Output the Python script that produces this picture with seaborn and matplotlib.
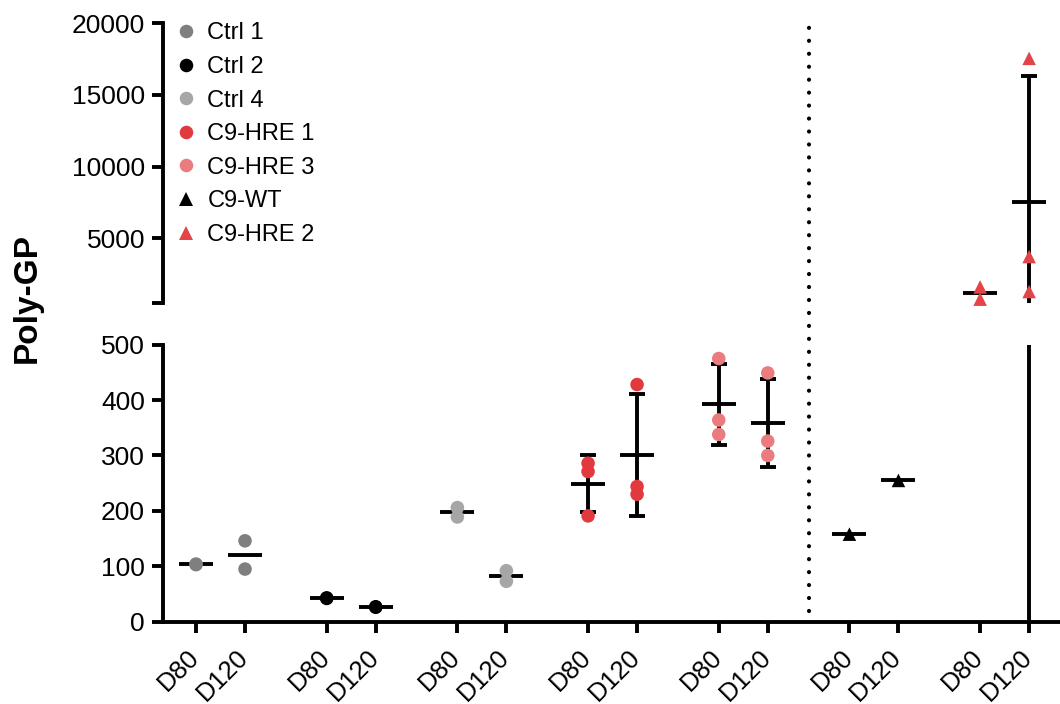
import numpy as np
import pandas as pd
import matplotlib
matplotlib.use("Agg")
import matplotlib.pyplot as plt
import seaborn as sns
from matplotlib.transforms import ScaledTranslation

# ---------------- data ----------------
lines = ["Ctrl 1", "Ctrl 2", "Ctrl 4", "C9-HRE 1", "C9-HRE 3", "C9-WT", "C9-HRE 2"]
days = ["D80", "D120"]
colors = ["#7f7f7f", "#000000", "#a6a6a6", "#e2393e", "#ea7c80", "#000000", "#e24448"]
markers = ["o", "o", "o", "o", "o", "^", "^"]

ctrl1_d80 = [104, 103]
ctrl1_d120 = [146, 95]
ctrl2_d80 = [43, 42]
ctrl2_d120 = [27, 26]
ctrl4_d80 = [206, 189]
ctrl4_d120 = [92, 73]
hre1_d80 = [286, 271, 191]
hre1_d120 = [428, 244, 230]
hre3_d80 = [475, 364, 338]
hre3_d120 = [449, 326, 300]
wt_d80 = [158]
wt_d120 = [255]
hre2_d80 = [1600, 750]
hre2_d120 = [17550, 3720, 1280]

axis_break = 500
upper_ticks = [500, 5000, 10000, 15000, 20000]
upper_labels = ["", "5000", "10000", "15000", "20000"]
lower_ticks = [0, 100, 200, 300, 400, 500]

values = {
    ("Ctrl 1", "D80"): ctrl1_d80, ("Ctrl 1", "D120"): ctrl1_d120,
    ("Ctrl 2", "D80"): ctrl2_d80, ("Ctrl 2", "D120"): ctrl2_d120,
    ("Ctrl 4", "D80"): ctrl4_d80, ("Ctrl 4", "D120"): ctrl4_d120,
    ("C9-HRE 1", "D80"): hre1_d80, ("C9-HRE 1", "D120"): hre1_d120,
    ("C9-HRE 3", "D80"): hre3_d80, ("C9-HRE 3", "D120"): hre3_d120,
    ("C9-WT", "D80"): wt_d80, ("C9-WT", "D120"): wt_d120,
    ("C9-HRE 2", "D80"): hre2_d80, ("C9-HRE 2", "D120"): hre2_d120,
}

group_step = 8 / 3
rows = []
for gi, ln in enumerate(lines):
    for di, d in enumerate(days):
        for v in values[(ln, d)]:
            rows.append(dict(line=ln, day=d, pos=gi * group_step + di, val=v))
df = pd.DataFrame(rows)
stats = (df.groupby(["line", "day"], sort=False)
           .agg(pos=("pos", "first"), mean=("val", "mean"),
                sd=("val", "std"), n=("val", "size"))
           .reset_index())

# ---------------- style ----------------
sns.set_style("ticks")
plt.rcParams["font.family"] = ["Liberation Sans", "DejaVu Sans"]
plt.rcParams.update({"text.color": "black", "axes.labelcolor": "black",
                     "xtick.color": "black", "ytick.color": "black",
                     "axes.edgecolor": "black"})
LW = 2.8
FS = 19
FS_X = 18.5
FS_LEG = 17

fig = plt.figure(figsize=(10.6, 7.04), dpi=100)
ax_u = fig.add_axes([0.1538, 0.570, 0.8462, 0.397])
ax_l = fig.add_axes([0.1538, 0.1169, 0.8462, 0.3935])

pal = dict(zip(lines, colors))
mk = dict(zip(lines, markers))
xlim = (-0.673, 17.63)

panels = [
    (ax_u, df[df["val"] > axis_break], stats[stats["mean"] > axis_break],
     stats[(stats["n"] >= 3) & (stats["mean"] + stats["sd"] > axis_break)], "full"),
    (ax_l, df[df["val"] <= axis_break], stats[stats["mean"] <= axis_break],
     stats[(stats["n"] >= 3) & (stats["mean"] - stats["sd"] < axis_break)], False),
]

for ax, dsub, msub, esub, leg in panels:
    ax.errorbar(esub["pos"], esub["mean"], yerr=esub["sd"], fmt="none", ecolor="black",
                elinewidth=LW, capsize=5.8, capthick=LW, zorder=2)
    ax.plot(msub["pos"], msub["mean"], ls="none", marker="_", ms=24, mew=LW,
            color="black", zorder=2)
    sns.scatterplot(data=dsub, x="pos", y="val", hue="line", style="line",
                    hue_order=lines, style_order=lines, palette=pal, markers=mk,
                    s=95, linewidth=0, ax=ax, legend=leg, zorder=3, clip_on=False)
    ax.set_xlim(*xlim)
    ax.set_xlabel("")
    ax.set_ylabel("")
    for s in ax.spines.values():
        s.set_linewidth(LW)
        s.set_color("black")
    ax.tick_params(axis="both", which="major", direction="out", length=8,
                   width=LW, labelsize=FS, pad=5, color="black", labelcolor="black")

# upper panel
ax_u.set_ylim(axis_break, 20000)
ax_u.set_yticks(upper_ticks)
ax_u.set_yticklabels(upper_labels)
ax_u.set_yticks([axis_break], minor=True)
ax_u.tick_params(axis="y", which="minor", direction="in", length=7, width=LW, color="black")
ax_u.set_xticks([])
for side in ("top", "right", "bottom"):
    ax_u.spines[side].set_visible(False)
sns.move_legend(ax_u, "upper left", bbox_to_anchor=(0.0156, 1.003), frameon=False,
                title=None, fontsize=FS_LEG, handlelength=0.8, handletextpad=0.49,
                labelspacing=0.49, borderaxespad=0, borderpad=0, labelcolor="black")

# lower panel
ax_l.set_ylim(0, axis_break)
ax_l.set_yticks(lower_ticks)
ax_l.set_yticks([axis_break], minor=True)
ax_l.tick_params(axis="y", which="minor", direction="in", length=7, width=LW, color="black")
for side in ("top", "right"):
    ax_l.spines[side].set_visible(False)
ax_l.set_xticks(stats["pos"])
ax_l.set_xticklabels(stats["day"], rotation=45, ha="right", va="top")
ax_l.tick_params(axis="x", pad=9, labelsize=FS_X)
off = ScaledTranslation(8 / 100, 0, fig.dpi_scale_trans)
for lab in ax_l.get_xticklabels():
    lab.set_transform(lab.get_transform() + off)

# dotted separator between the HRE-3 group and the isogenic pair
p_left = stats.loc[(stats["line"] == "C9-HRE 3") & (stats["day"] == "D120"), "pos"].iloc[0]
p_right = stats.loc[(stats["line"] == "C9-WT") & (stats["day"] == "D80"), "pos"].iloc[0]
ax_l.axvline((p_left + p_right) / 2, ymin=0.039, ymax=2.154, color="black", lw=3,
             ls=(0, (0.01, 3.1)), dash_capstyle="round", clip_on=False)

fig.text(0.026, 0.577, "Poly-GP", rotation=90, fontsize=24, fontweight="bold",
         ha="center", va="center", color="black")

fig.savefig("out.png", dpi=100)
